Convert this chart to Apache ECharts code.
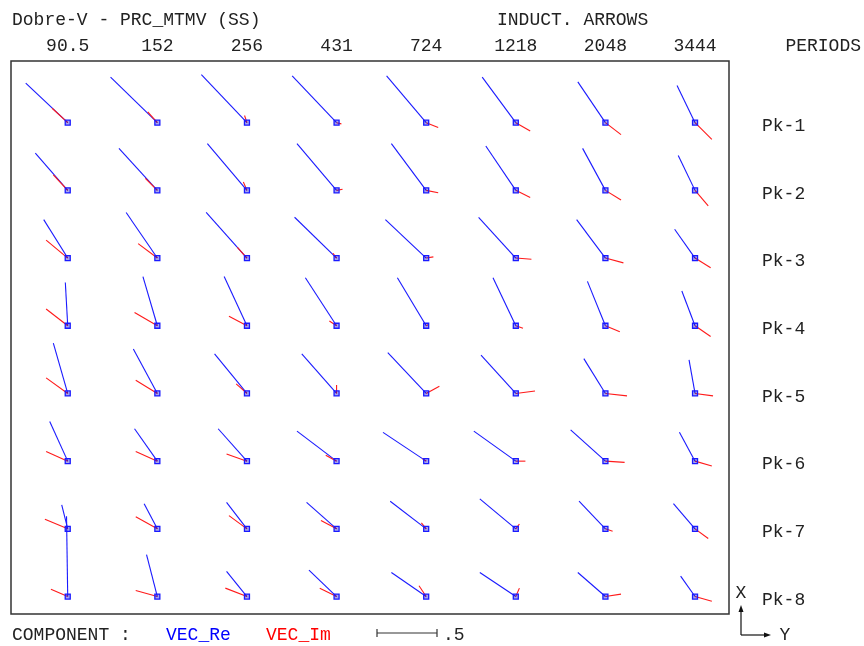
<!DOCTYPE html>
<html><head><meta charset="utf-8">
<script src="https://cdn.jsdelivr.net/npm/echarts@6/dist/echarts.min.js"></script>
<style>html,body{margin:0;padding:0;background:#fff}#c{width:864px;height:646px}</style>
</head><body><div id="c"></div>
<script>
// ---- data ----
const periods = ['90.5', '152', '256', '431', '724', '1218', '2048', '3444'];
const sites = ['Pk-1', 'Pk-2', 'Pk-3', 'Pk-4', 'Pk-5', 'Pk-6', 'Pk-7', 'Pk-8'];
// Real induction vector components (Y = east, X = north), one row per site, one column per period
const reY = [
  [-0.35, -0.39, -0.38, -0.37, -0.33, -0.28, -0.23, -0.15],
  [-0.27, -0.32, -0.33, -0.33, -0.29, -0.25, -0.19, -0.14],
  [-0.20, -0.26, -0.34, -0.35, -0.34, -0.31, -0.24, -0.17],
  [-0.02, -0.12, -0.19, -0.26, -0.24, -0.19, -0.15, -0.11],
  [-0.12, -0.20, -0.27, -0.29, -0.32, -0.29, -0.18, -0.05],
  [-0.15, -0.19, -0.24, -0.33, -0.36, -0.35, -0.29, -0.13],
  [-0.05, -0.11, -0.17, -0.25, -0.30, -0.30, -0.22, -0.18],
  [-0.01, -0.09, -0.17, -0.23, -0.29, -0.30, -0.23, -0.12]
];
const reX = [
  [0.33, 0.38, 0.40, 0.39, 0.39, 0.38, 0.34, 0.31],
  [0.31, 0.35, 0.39, 0.39, 0.39, 0.37, 0.35, 0.29],
  [0.32, 0.38, 0.38, 0.34, 0.32, 0.34, 0.32, 0.24],
  [0.36, 0.41, 0.41, 0.40, 0.40, 0.40, 0.37, 0.29],
  [0.42, 0.37, 0.33, 0.33, 0.34, 0.32, 0.29, 0.28],
  [0.33, 0.27, 0.27, 0.25, 0.24, 0.25, 0.26, 0.24],
  [0.20, 0.21, 0.22, 0.22, 0.23, 0.25, 0.23, 0.21],
  [0.67, 0.35, 0.21, 0.22, 0.20, 0.20, 0.20, 0.17]
];
// Imaginary induction vector components
const imY = [
  [-0.13, -0.08, -0.02, 0.04, 0.10, 0.12, 0.13, 0.14],
  [-0.12, -0.10, -0.03, 0.05, 0.10, 0.12, 0.13, 0.11],
  [-0.18, -0.16, -0.08, -0.03, 0.06, 0.13, 0.15, 0.13],
  [-0.18, -0.19, -0.15, -0.06, 0.02, 0.06, 0.12, 0.13],
  [-0.18, -0.18, -0.09, 0.00, 0.11, 0.16, 0.18, 0.15],
  [-0.18, -0.18, -0.17, -0.09, -0.03, 0.08, 0.16, 0.14],
  [-0.19, -0.18, -0.15, -0.13, -0.04, 0.03, 0.06, 0.11],
  [-0.14, -0.18, -0.18, -0.14, -0.06, 0.03, 0.13, 0.14]
];
const imX = [
  [0.12, 0.09, 0.06, -0.01, -0.04, -0.07, -0.10, -0.14],
  [0.13, 0.10, 0.07, 0.01, -0.02, -0.06, -0.08, -0.13],
  [0.15, 0.12, 0.09, 0.04, 0.01, -0.01, -0.04, -0.08],
  [0.14, 0.11, 0.08, 0.04, 0.01, -0.02, -0.05, -0.09],
  [0.13, 0.11, 0.08, 0.07, 0.06, 0.02, -0.02, -0.02],
  [0.08, 0.08, 0.06, 0.05, 0.02, 0.00, -0.01, -0.04],
  [0.08, 0.10, 0.11, 0.07, 0.05, 0.04, -0.02, -0.08],
  [0.06, 0.05, 0.07, 0.07, 0.09, 0.07, 0.02, -0.04]
];
const scaleLength = 0.5;

// ---- style ----
const PX_PER_UNIT = 120;            // arrow length scale (0.5 -> 60 px)
const FONT = '"Liberation Mono", "Courier New", monospace';
const FS = 18;
const TXT = '#222';
const BLUE = '#1a1aff';
const RED = '#ff1a1a';

const cells = [];
for (let r = 0; r < sites.length; r++) {
  for (let c = 0; c < periods.length; c++) {
    cells.push([c, r, reY[r][c], reX[r][c], imY[r][c], imX[r][c]]);
  }
}
const idx = periods.map((_, i) => i);

function renderItem(params, api) {
  const o = api.coord([api.value(0), api.value(1)]);
  const re = [o[0] + api.value(2) * PX_PER_UNIT, o[1] - api.value(3) * PX_PER_UNIT];
  const im = [o[0] + api.value(4) * PX_PER_UNIT, o[1] - api.value(5) * PX_PER_UNIT];
  return {
    type: 'group',
    children: [
      { type: 'line', shape: { x1: o[0], y1: o[1], x2: re[0], y2: re[1] }, style: { stroke: BLUE, lineWidth: 1.1 } },
      { type: 'line', shape: { x1: o[0], y1: o[1], x2: im[0], y2: im[1] }, style: { stroke: RED, lineWidth: 1.1 } },
      { type: 'rect', shape: { x: o[0] - 2.5, y: o[1] - 2.5, width: 5, height: 5 }, style: { stroke: BLUE, fill: 'rgba(0,0,200,0.35)', lineWidth: 1.3 } }
    ]
  };
}

function txt(text, x, y, color, align) {
  return { type: 'text', x: x, y: y, silent: true,
    style: { text: text, fontFamily: FONT, fontSize: FS, fill: color || TXT, align: align || 'left', verticalAlign: 'middle' } };
}

const barX0 = 377, barY = 633, barLen = scaleLength * PX_PER_UNIT;
const ax0 = 741, ay0 = 635;

const chart = echarts.init(document.getElementById('c'), null, { renderer: 'canvas' });
chart.setOption({
  backgroundColor: '#fff',
  animation: false,
  grid: { left: 11, top: 61, right: 135, bottom: 32, show: true, borderColor: '#333', borderWidth: 1.5, backgroundColor: 'transparent' },
  xAxis: {
    type: 'value', min: -0.633, max: 7.379, position: 'top',
    axisLine: { show: false }, axisTick: { show: false }, splitLine: { show: false },
    axisLabel: { customValues: idx, formatter: v => periods[Math.round(v)], margin: 6, fontFamily: FONT, fontSize: FS, color: TXT }
  },
  yAxis: {
    type: 'value', inverse: true, min: -0.911, max: 7.258, position: 'right',
    axisLine: { show: false }, axisTick: { show: false }, splitLine: { show: false },
    axisLabel: {
      customValues: idx, formatter: v => '{s|' + sites[Math.round(v)] + '}', margin: 33, align: 'left',
      fontFamily: FONT, fontSize: FS, color: TXT,
      rich: { s: { fontFamily: FONT, fontSize: FS, color: TXT, padding: [7, 0, 0, 0] } }
    }
  },
  series: [{
    type: 'custom', name: 'induction arrows', renderItem: renderItem, data: cells, clip: false,
    encode: { x: 0, y: 1 }
  }],
  graphic: [
    txt('Dobre-V - PRC_MTMV (SS)', 12, 20),
    txt('INDUCT. ARROWS', 497, 20),
    txt('PERIODS', 861, 46, TXT, 'right'),
    txt('COMPONENT :', 12, 635),
    txt('VEC_Re', 166, 635, '#0000ff'),
    txt('VEC_Im', 266, 635, '#ff0000'),
    { type: 'line', shape: { x1: barX0, y1: barY, x2: barX0 + barLen, y2: barY }, style: { stroke: '#333', lineWidth: 1.2 } },
    { type: 'line', shape: { x1: barX0, y1: barY - 4, x2: barX0, y2: barY + 4 }, style: { stroke: '#333', lineWidth: 1.2 } },
    { type: 'line', shape: { x1: barX0 + barLen, y1: barY - 4, x2: barX0 + barLen, y2: barY + 4 }, style: { stroke: '#333', lineWidth: 1.2 } },
    txt(String(scaleLength).replace(/^0/, ''), barX0 + barLen + 6, 635),
    txt('X', 741, 593, TXT, 'center'),
    txt('Y', 785, 635, TXT, 'center'),
    { type: 'line', shape: { x1: ax0, y1: ay0, x2: ax0, y2: 609 }, style: { stroke: '#111', lineWidth: 1.2 } },
    { type: 'polygon', shape: { points: [[ax0, 605], [ax0 - 2.5, 612], [ax0 + 2.5, 612]] }, style: { fill: '#111' } },
    { type: 'line', shape: { x1: ax0, y1: ay0, x2: 766, y2: ay0 }, style: { stroke: '#111', lineWidth: 1.2 } },
    { type: 'polygon', shape: { points: [[771, ay0], [764, ay0 - 2.5], [764, ay0 + 2.5]] }, style: { fill: '#111' } }
  ]
});
</script>
</body></html>
